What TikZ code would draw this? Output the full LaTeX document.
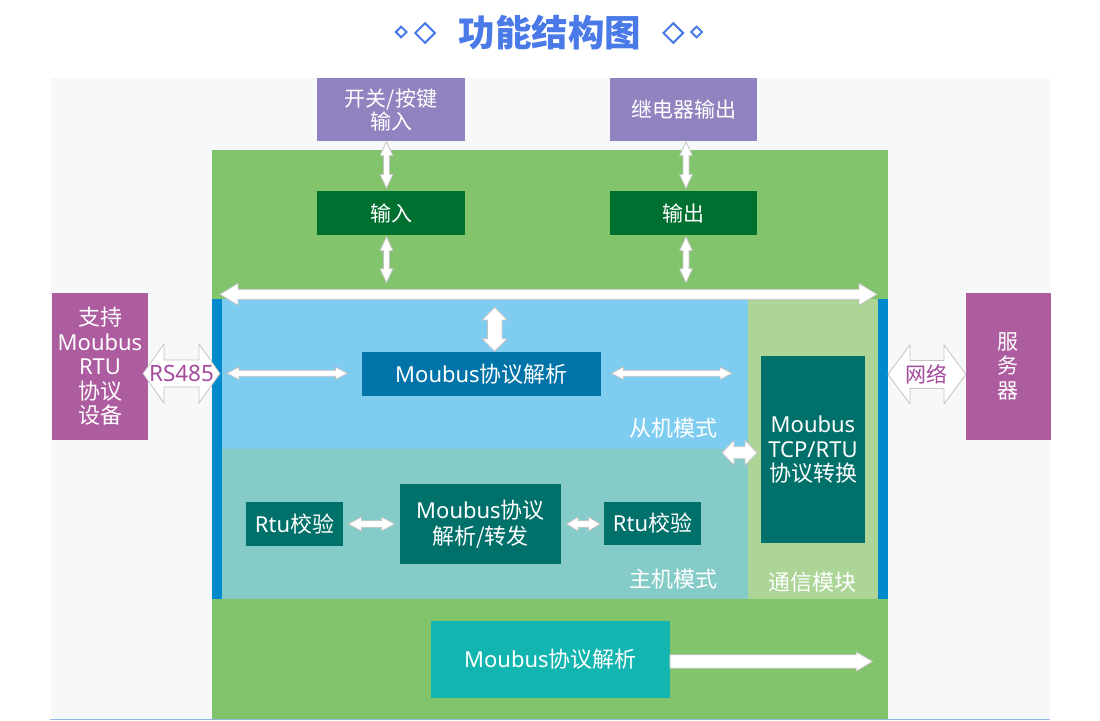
\documentclass[tikz,border=0pt]{standalone}
\usepackage{fontspec}
\setmainfont{Noto Sans CJK SC}
\newfontfamily\lat{Noto Sans}
\usetikzlibrary{calc,shapes.geometric}
\definecolor{panel}{HTML}{F7F8FA}
\definecolor{titleblue}{HTML}{4A7AE8}
\definecolor{biggreen}{HTML}{82C46C}
\definecolor{ptop}{HTML}{9183BF}
\definecolor{dgreen}{HTML}{007030}
\definecolor{sky}{HTML}{7ECDF1}
\definecolor{bbar}{HTML}{0089CC}
\definecolor{lgreen}{HTML}{ACD597}
\definecolor{tealr}{HTML}{85CCC8}
\definecolor{slavebox}{HTML}{0073A8}
\definecolor{tcpc}{HTML}{00716A}
\definecolor{botc}{HTML}{12B5B0}
\definecolor{pside}{HTML}{AC5C9F}
\definecolor{ptext}{HTML}{A44A9C}
\definecolor{arrline}{HTML}{C4C4C4}
\definecolor{edgeline}{HTML}{8FB6E6}
\newcommand{\myfs}[2]{\fontsize{#1}{#2}\selectfont}
% horizontal double arrow: #2 left tip, #3 right tip, #4 shaft half, #5 head half, #6 head length
\newcommand{\dblH}[6][]{%
  \draw[arr,#1] let \p1=(#2), \p2=(#3) in
    (\x1,\y1) -- (\x1+#6pt,\y1+#5pt) -- (\x1+#6pt,\y1+#4pt) -- (\x2-#6pt,\y1+#4pt)
    -- (\x2-#6pt,\y1+#5pt) -- (\x2,\y1) -- (\x2-#6pt,\y1-#5pt) -- (\x2-#6pt,\y1-#4pt)
    -- (\x1+#6pt,\y1-#4pt) -- (\x1+#6pt,\y1-#5pt) -- cycle;}
% vertical double arrow: #2 top tip, #3 bottom tip
\newcommand{\dblV}[6][]{%
  \draw[arr,#1] let \p1=(#2), \p2=(#3) in
    (\x1,\y1) -- (\x1+#5pt,\y1-#6pt) -- (\x1+#4pt,\y1-#6pt) -- (\x1+#4pt,\y2+#6pt)
    -- (\x1+#5pt,\y2+#6pt) -- (\x1,\y2) -- (\x1-#5pt,\y2+#6pt) -- (\x1-#4pt,\y2+#6pt)
    -- (\x1-#4pt,\y1-#6pt) -- (\x1-#5pt,\y1-#6pt) -- cycle;}
% single right arrow: #2 tail, #3 tip
\newcommand{\sglH}[6][]{%
  \draw[arr,#1] let \p1=(#2), \p2=(#3) in
    (\x1,\y1+#4pt) -- (\x2-#6pt,\y1+#4pt) -- (\x2-#6pt,\y1+#5pt) -- (\x2,\y1)
    -- (\x2-#6pt,\y1-#5pt) -- (\x2-#6pt,\y1-#4pt) -- (\x1,\y1-#4pt) -- cycle;}
\tikzset{
  arr/.style={fill=white, draw=arrline, line width=0.8pt, line join=miter},
  box/.style={inner sep=0pt, outer sep=0pt, align=center, text=white, font=\myfs{22}{24.5}},
  lbl/.style={inner sep=0pt, text=white, font=\myfs{22}{24.5}},
  dia/.style={diamond, draw=titleblue, line width=2pt, inner sep=0pt, aspect=1},
}
\begin{document}
\begin{tikzpicture}[x=1pt,y=-1pt]
\useasboundingbox (0,0) rectangle (1100,720);
% title
\node[font=\bfseries\myfs{36.5}{40}, text=titleblue, inner sep=0pt] (title) at (549.9,33) {功能结构图};
\node[dia, minimum width=11.5pt, minimum height=11.5pt] (d1) at (401.2,32) {};
\node[dia, minimum width=20.5pt, minimum height=20.5pt] (d2) at (425,33) {};
\node[dia, minimum width=20.5pt, minimum height=20.5pt] (d3) at (673.3,33) {};
\node[dia, minimum width=11.5pt, minimum height=11.5pt] (d4) at (696.6,32) {};
% regions
\fill[panel] (51,78) rectangle (1050,718.5);
\fill[biggreen] (212,150) rectangle (888,718.5);
\fill[sky] (222,299.3) rectangle (747.5,449);
\fill[tealr] (222,449) rectangle (747.5,598.5);
\fill[lgreen] (747.5,299.3) rectangle (878,598.5);
\fill[bbar] (212,299.3) rectangle (222,598.5);
\fill[bbar] (878,299.3) rectangle (888,598.5);
\fill[edgeline] (50,718.5) rectangle (1050,720);
% top boxes
\node[box, fill=ptop, minimum width=148pt, minimum height=63pt, font=\myfs{21}{23}] (sw) at (391,109.5) {开关/按键\\输入};
\node[box, fill=ptop, minimum width=147pt, minimum height=63pt, font=\myfs{21}{23}] (relay) at (683.5,109.5) {继电器输出};
\node[box, fill=dgreen, minimum width=148pt, minimum height=44pt, font=\myfs{21}{23}] (in) at (391,213) {输入};
\node[box, fill=dgreen, minimum width=147pt, minimum height=44pt, font=\myfs{21}{23}] (out) at (683.5,213) {输出};
% bus
\coordinate (busL) at (220,294.3);
\coordinate (busR) at (877,294.3);
\dblV{$(sw.south)+(-4.5,0.7)$}{$(in.north)+(-4.5,-2.7)$}{3}{6.5}{14}
\dblV{$(in.south)+(-4.5,1.7)$}{$(in.south)+(-4.5,47.7)$}{3}{6.5}{14}
\dblV{$(relay.south)+(2.5,0.7)$}{$(out.north)+(2.5,-2.7)$}{3}{6.5}{14}
\dblV{$(out.south)+(2.5,1.7)$}{$(out.south)+(2.5,47.7)$}{3}{6.5}{14}
\dblH{busL}{busR}{5}{11}{18}
% slave mode
\node[box, fill=slavebox, minimum width=239pt, minimum height=44.5pt] (mp) at (481.5,374) {{\lat Moubus}协议解析};
\dblV{$(mp.north)+(13.2,-44.4)$}{$(mp.north)+(13.2,-0.4)$}{7.3}{12.6}{12.7}
\dblH{$(mp.west)+(-135.1,-0.7)$}{$(mp.west)+(-14.6,-0.7)$}{3}{6.3}{12}
\dblH{$(mp.east)+(10.4,-0.7)$}{$(mp.east)+(131,-0.7)$}{3}{6.3}{12}
\node[lbl] (slaveL) at (673,428) {从机模式};
% communication module
\node[box, fill=tcpc, minimum width=103.5pt, minimum height=187.3pt, font=\myfs{22}{24.7}] (tcp) at (813,449.7) {{\lat Moubus}\\{\lat TCP/RTU}\\协议转换};
\dblH{$(tcp.west)+(-39.2,3)$}{$(tcp.west)+(-4.2,3)$}{6}{12.5}{12}
\node[lbl] (commL) at (812.5,581.7) {通信模块};
% master mode
\node[box, fill=tcpc, minimum width=97pt, minimum height=43.5pt] (rtuL) at (294.5,524) {{\lat Rtu}校验};
\node[box, fill=tcpc, minimum width=161pt, minimum height=79.6pt, font=\myfs{22}{26}] (fwd) at (480.5,524) {{\lat Moubus}协议\\解析/转发};
\node[box, fill=tcpc, minimum width=97pt, minimum height=43pt] (rtuR) at (652.5,523.5) {{\lat Rtu}校验};
\dblH{$(rtuL.east)+(5.4,0)$}{$(fwd.west)+(-5.3,0)$}{3.3}{7}{13}
\dblH{$(fwd.east)+(5.5,0)$}{$(rtuR.west)+(-4,0.5)$}{3.3}{7}{11.6}
\node[lbl] (masterL) at (673,579) {主机模式};
% bottom
\node[box, fill=botc, minimum width=239pt, minimum height=77pt] (bot) at (550.4,659.2) {{\lat Moubus}协议解析};
\sglH{$(bot.east)+(0,2.3)$}{$(bot.east)+(202.8,2.3)$}{6.7}{9.7}{16.5}
% side devices
\node[box, fill=pside, minimum width=96pt, minimum height=147.3pt] (devL) at (100,366.4) {支持\\{\lat Moubus}\\{\lat RTU}\\协议\\设备};
\node[box, fill=pside, minimum width=84.7pt, minimum height=147.3pt, font=\myfs{21}{24.5}] (srv) at (1008.3,366.4) {服\\务\\器};
\dblH{$(devL.east)+(-5,7.1)$}{$(devL.east)+(72,7.1)$}{13.5}{29.5}{21}
\node[inner sep=0pt, text=ptext, font=\lat\myfs{22.5}{24}] (rs) at ($(devL.east)+(33.5,7.1)$) {RS485};
\dblH{$(srv.west)+(-78,8)$}{$(srv.west)+(0,8)$}{14}{29.5}{22}
\node[inner sep=0pt, text=ptext, font=\myfs{21}{24}] (net) at ($(srv.west)+(-39,8)$) {网络};
\end{tikzpicture}
\end{document}
